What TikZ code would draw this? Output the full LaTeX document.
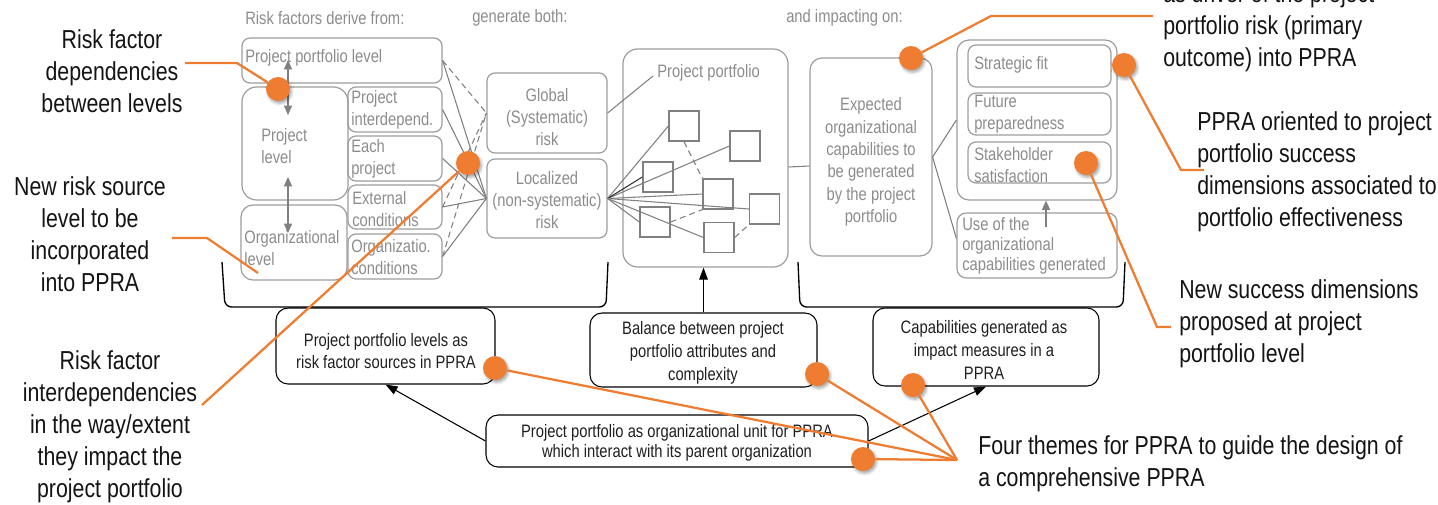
\documentclass[tikz,border=0pt]{standalone}
\usepackage{fontspec}
\setmainfont[FakeStretch=0.82]{Liberation Sans}
\usetikzlibrary{fit,calc,arrows.meta,shadows.blur}
\definecolor{orng}{HTML}{EE7D31}
\definecolor{gtxt}{HTML}{8C8C8C}
\definecolor{gline}{HTML}{9C9C9C}
\definecolor{wline}{HTML}{808080}
\newcommand{\mygfont}{\fontsize{13.5}{16.3}\selectfont}
\newcommand{\myafont}{\fontsize{19.5}{24}\selectfont}
\tikzset{
  gbox/.style={draw=gline, line width=0.9pt, rounded corners=6pt, inner sep=0pt, fit={#1}},
  bbox/.style={draw=black, line width=0.8pt, rounded corners=9pt, inner sep=0pt, fit={#1}},
  gtext/.style={font=\mygfont, text=gtxt, inner sep=0pt},
  btext/.style={font=\mygfont, text=black!88, inner sep=0pt, align=center},
  atext/.style={font=\myafont, text=black!92, inner sep=0pt},
  sq/.style={draw=wline, line width=1pt, minimum size=22.5pt, inner sep=0pt},
  web/.style={draw=wline, line width=0.8pt},
  webd/.style={draw=wline, line width=0.8pt, dash pattern=on 4.5pt off 3pt},
  garrow/.style={draw=wline, line width=1pt, {Triangle[width=6pt,length=7pt]}-{Triangle[width=6pt,length=7pt]}},
  garrowone/.style={draw=wline, line width=1pt, -{Triangle[width=6pt,length=7pt]}},
  barrow/.style={draw=black, line width=0.8pt, -{Triangle[width=6.5pt,length=9pt]}},
  brk/.style={draw=black, line width=1pt, rounded corners=5pt},
  oline/.style={draw=orng, line width=1.7pt},
  odot/.style={circle, fill=orng, minimum size=18pt, inner sep=0pt,
    blur shadow={shadow xshift=1.2pt, shadow yshift=-1.8pt, shadow blur radius=2pt, shadow opacity=35}},
}
\begin{document}
\begin{tikzpicture}[x=0.75pt,y=-0.75pt]
\useasboundingbox (0,0) rectangle (1438,504);

% ---- top labels
\node[gtext, anchor=west] (h1) at (245,18) {Risk factors derive from:};
\node[gtext, anchor=west] (h2) at (472,18) {generate both:};
\node[gtext, anchor=west] (h3) at (786,18) {and impacting on:};

% ---- left risk source boxes
\node[gbox={(242,38) (442,83)}] (ppl) {};
\node[gbox={(242,87) (348,200)}, rounded corners=11pt] (pl) {};
\node[gbox={(241,205) (347,280)}, rounded corners=9pt] (ol) {};
\node[gbox={(348,87) (442,132)}] (pi) {};
\node[gbox={(348,136) (442,181)}] (ep) {};
\node[gbox={(348,185) (442,229)}] (ec) {};
\node[gbox={(348,234) (442,279)}] (oc) {};

\node[gtext, anchor=west] (tppl) at (245,58) {Project portfolio level};
\node[gtext, anchor=west, align=left] (tpl) at (261,146) {Project\\level};
\node[gtext, anchor=west, align=left] (tol) at (244,248) {Organizational\\level};
\node[gtext, anchor=west, align=left] (tpi) at (351,110) {Project\\interdepend.};
\node[gtext, anchor=west, align=left] (tep) at (351,159) {Each\\project};
\node[gtext, anchor=west, align=left] (tec) at (352,209) {External\\conditions};
\node[gtext, anchor=west, align=left] (toc) at (351,257) {Organizatio.\\conditions};

\coordinate (a1s) at (288,60);
\coordinate (a1e) at (288,115);
\coordinate (a2s) at (288,177);
\coordinate (a2e) at (288,233);
\draw[garrow] (a1s) -- (a1e);
\draw[garrow] (a2s) -- (a2e);

% ---- global / localized risk
\node[gbox={(487,73) (607,153)}] (gl) {};
\node[gbox={(487,159) (607,238)}] (lo) {};
\node[gtext, align=center] (tgl) at (547,117) {Global\\(Systematic)\\risk};
\node[gtext, align=center] (tlo) at (547,200) {Localized\\(non-systematic)\\risk};

% web
\draw[web] (ppl.east) -- (lo.west);
\draw[web] (pi.east) -- (lo.west);
\draw[web] (ep.east) -- (lo.west);
\draw[web] (ec.east) -- (lo.west);
\draw[web] (oc.east) -- (lo.west);
\draw[webd] (ppl.east) -- (gl.west);
\draw[webd] (ec.east) -- (gl.west);
\draw[webd] (oc.east) -- (gl.west);

% ---- project portfolio
\node[gbox={(623,49) (788,267)}, rounded corners=11pt] (pp) {};
\node[gtext, anchor=west] (tpp) at (657,73) {Project portfolio};
\coordinate (ppl1) at (653,76);
\draw[web] (gl.east) -- (ppl1);

\node[sq] (s1) at (684,126) {};
\node[sq] (s2) at (745,146) {};
\node[sq] (s3) at (658,177) {};
\node[sq] (s4) at (718,194) {};
\node[sq] (s5) at (764.5,209) {};
\node[sq] (s6) at (655,222) {};
\node[sq] (s7) at (719,237.5) {};

\draw[web] (lo.east) -- (s1.west);
\draw[web] (lo.east) -- (s2.west);
\draw[web, draw=black!80] (lo.east) -- (s3.west);
\draw[web] (lo.east) -- (s4.west);
\draw[web] (lo.east) -- (s5.west);
\draw[web] (lo.east) -- (s6.west);
\draw[web] (lo.east) -- (s7.west);
\draw[webd] (s1.south) -- (s4.north west);
\draw[webd] (s6.east) -- (s4.south west);
\draw[webd] (s7.east) -- (s5.south west);

% ---- expected capabilities
\node[gbox={(810,58) (932,256)}, rounded corners=9pt] (ex) {};
\node[gtext, align=center, font=\fontsize{13.5}{16.7}\selectfont] (tex) at (871,162) {Expected\\organizational\\capabilities to\\be generated\\by the project\\portfolio};
\draw[web] ($(pp.east)+(0,9)$) -- ($(ex.west)+(0,9)$);

% ---- success dimensions
\node[gbox={(957,40) (1117,200)}, rounded corners=9pt] (sd) {};
\node[gbox={(968,45) (1111,87)}] (sf) {};
\node[gbox={(968,93) (1111,135)}] (fp) {};
\node[gbox={(968,142) (1111,183)}] (ss) {};
\node[gbox={(957,213) (1117,278)}, rounded corners=7pt] (us) {};
\node[gtext, anchor=west] (tsf) at (974,65) {Strategic fit};
\node[gtext, anchor=west, align=left] (tfp) at (974,114) {Future\\preparedness};
\node[gtext, anchor=west, align=left] (tss) at (974,165) {Stakeholder\\satisfaction};
\node[gtext, anchor=west, align=left, font=\fontsize{13.5}{15.2}\selectfont] (tus) at (962,246) {Use of the\\organizational\\capabilities generated};
\coordinate (uarr) at (1046,227);
\draw[garrowone] (uarr) -- (uarr |- sd.south);
\draw[web] (ex.east) -- (sd.west);
\draw[web] (ex.east) -- ($(us.west)+(0,-7)$);

% ---- brackets
\draw[brk] (222,262) -- (225,307) -- (606,307) -- (608,262);
\draw[brk] (798,262) -- (800,307) -- (1123,307) -- (1125,262);

% ---- bottom boxes
\node[bbox={(276,308) (495,384)}] (ba) {};
\node[bbox={(590,313) (817,387)}] (bb) {};
\node[bbox={(873,308) (1099,386)}] (bc) {};
\node[bbox={(486,415) (868,467)}] (bd) {};
\node[btext] (tba) at (386,351) {Project portfolio levels as\\risk factor sources in PPRA};
\node[btext, font=\fontsize{13.5}{17}\selectfont] (tbb) at (703,353) {Balance between project\\portfolio attributes and\\complexity};
\node[btext, font=\fontsize{13.5}{17}\selectfont] (tbc) at (984,350) {Capabilities generated as\\impact measures in a\\PPRA};
\node[btext, font=\fontsize{13.5}{15}\selectfont] (tbd) at (677,443) {Project portfolio as organizational unit for PPRA\\which interact with its parent organization};

\draw[barrow] (bb.north) -- (bb.north |- pp.south);
\draw[barrow] (bd.west) -- (ba.south);
\draw[barrow] (bd.east) -- (bc.south);

% ---- annotations
\node[atext, align=center] (n1) at (112,71) {Risk factor\\dependencies\\between levels};
\node[atext, align=center] (n2) at (90,234.5) {New risk source\\level to be\\incorporated\\into PPRA};
\node[atext, align=center] (n3) at (110,426.5) {Risk factor\\interdependencies\\in the way/extent\\they impact the\\project portfolio};
\node[atext, anchor=west, align=left] (n4) at (1163,28) {as driver of the project\\portfolio risk (primary\\outcome) into PPRA};
\node[atext, anchor=west, align=left] (n5) at (1197,172) {PPRA oriented to project\\portfolio success\\dimensions associated to\\portfolio effectiveness};
\node[atext, anchor=west, align=left] (n6) at (1179,324) {New success dimensions\\proposed at project\\portfolio level};
\node[atext, anchor=west, align=left] (n7) at (978,464) {Four themes for PPRA to guide the design of\\a comprehensive PPRA};

% ---- orange markers and connectors
\node[odot] (d1) at (278,89) {};
\node[odot] (d2) at (468,163) {};
\node[odot] (d3) at (911,58) {};
\node[odot] (d4) at (1124,65) {};
\node[odot] (d5) at (1086,163) {};
\node[odot] (d6) at (495,368) {};
\node[odot] (d7) at (817,374) {};
\node[odot] (d8) at (913,385) {};
\node[odot] (d9) at (863,459) {};

\coordinate (o1a) at (185,63);
\coordinate (o1b) at (237,63);
\coordinate (o2a) at (172,238);
\coordinate (o2b) at (207,238);
\coordinate (o2c) at (258,273);
\coordinate (o3a) at (202,405);
\coordinate (o4b) at (991,16);
\coordinate (o4c) at (1153,16);
\coordinate (o5b) at (1181,170);
\coordinate (o5c) at (1204,170);
\coordinate (o6b) at (1157,327);
\coordinate (o6c) at (1171,327);
\coordinate (o7) at (957,460);

\draw[oline] (o1a) -- (o1b) -- (d1);
\draw[oline] (o2a) -- (o2b) -- (o2c);
\draw[oline] (d2) -- (o3a);
\draw[oline] (d3) -- (o4b) -- (o4c);
\draw[oline] (d4) -- (o5b) -- (o5c);
\draw[oline] (d5) -- (o6b) -- (o6c);
\draw[oline] (d6) -- (o7);
\draw[oline] (d7) -- (o7);
\draw[oline] (d8) -- (o7);
\draw[oline] (d9) -- (o7);
\end{tikzpicture}
\end{document}
